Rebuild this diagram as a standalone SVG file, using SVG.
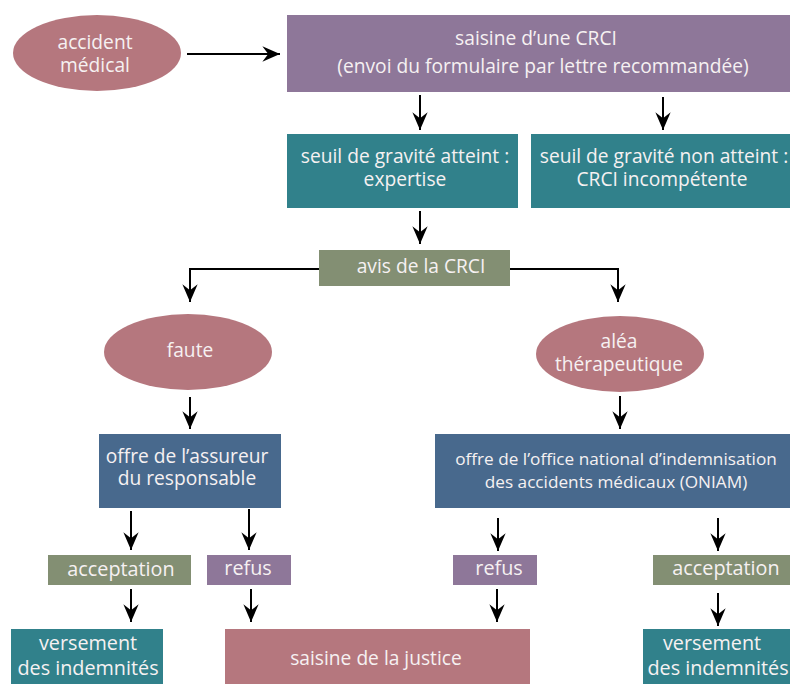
<svg xmlns="http://www.w3.org/2000/svg" width="790" height="684" viewBox="0 0 790 684">
<style>
text{font-family:"Open Sans","Liberation Sans",sans-serif;font-size:19.2px;fill:#f6f1f2;text-anchor:middle}
.sm{font-size:17.2px}
.lg{font-size:19.8px}
.rose{fill:#b5777e}
.purple{fill:#8e7799}
.teal{fill:#31818b}
.green{fill:#838f73}
.blue{fill:#48698d}
.c{fill:none;stroke:#000;stroke-width:2}
</style>
<defs>
<marker id="ah" markerUnits="userSpaceOnUse" markerWidth="20" markerHeight="20" viewBox="-16 -8 17 16" refX="0" refY="0" orient="auto">
<path d="M0,0 L-15,-6.5 L-10,0 L-15,6.5 Z" fill="#000"/>
</marker>
</defs>
<rect width="790" height="684" fill="#fff"/>
<g id="connectors">
<path class="c" d="M187,54 H280" marker-end="url(#ah)"/>
<path class="c" d="M420,95 V130" marker-end="url(#ah)"/>
<path class="c" d="M663,97 V130" marker-end="url(#ah)"/>
<path class="c" d="M420,211 V244" marker-end="url(#ah)"/>
<path class="c" d="M319,269 H190 V302" marker-end="url(#ah)"/>
<path class="c" d="M510,269 H618 V302" marker-end="url(#ah)"/>
<path class="c" d="M190,397 V429" marker-end="url(#ah)"/>
<path class="c" d="M620,396 V429" marker-end="url(#ah)"/>
<path class="c" d="M131,511 V550" marker-end="url(#ah)"/>
<path class="c" d="M249,509 V550" marker-end="url(#ah)"/>
<path class="c" d="M498,518 V551" marker-end="url(#ah)"/>
<path class="c" d="M718,518 V551" marker-end="url(#ah)"/>
<path class="c" d="M131,589 V622" marker-end="url(#ah)"/>
<path class="c" d="M251,589 V622" marker-end="url(#ah)"/>
<path class="c" d="M497,589 V622" marker-end="url(#ah)"/>
<path class="c" d="M718,593 V626" marker-end="url(#ah)"/>
</g>
<g id="accident">
<ellipse class="rose" cx="97" cy="53" rx="84" ry="38"/>
<text x="95" y="49">accident</text>
<text x="95" y="72">médical</text>
</g>
<g id="saisine-crci">
<rect class="purple" x="287" y="15" width="503" height="77"/>
<text x="536" y="45">saisine d’une CRCI</text>
<text x="543" y="73">(envoi du formulaire par lettre recommandée)</text>
</g>
<g id="seuil-atteint">
<rect class="teal" x="287" y="134" width="231" height="74"/>
<text x="405" y="163">seuil de gravité atteint :</text>
<text x="405" y="186">expertise</text>
</g>
<g id="seuil-non-atteint">
<rect class="teal" x="531" y="134" width="259" height="74"/>
<text x="664" y="163">seuil de gravité non atteint :</text>
<text x="662" y="186">CRCI incompétente</text>
</g>
<g id="avis">
<rect class="green" x="319" y="250" width="191" height="36"/>
<text x="421" y="273">avis de la CRCI</text>
</g>
<g id="faute">
<ellipse class="rose" cx="188" cy="352" rx="84" ry="38"/>
<text x="190" y="357">faute</text>
</g>
<g id="alea">
<ellipse class="rose" cx="620" cy="354" rx="84" ry="38"/>
<text x="619" y="348">aléa</text>
<text x="619" y="371">thérapeutique</text>
</g>
<g id="offre-assureur">
<rect class="blue" x="99" y="434" width="182" height="74"/>
<text x="187" y="463">offre de l’assureur</text>
<text x="187" y="485">du responsable</text>
</g>
<g id="offre-oniam">
<rect class="blue" x="435" y="434" width="355" height="74"/>
<text x="616" y="465" class="sm">offre de l’office national d’indemnisation</text>
<text x="616" y="488" class="sm">des accidents médicaux (ONIAM)</text>
</g>
<g id="acceptation-1">
<rect class="green" x="48" y="555" width="143" height="30"/>
<text x="121" y="576" class="lg">acceptation</text>
</g>
<g id="refus-1">
<rect class="purple" x="207" y="555" width="84" height="30"/>
<text x="248" y="575" class="lg">refus</text>
</g>
<g id="refus-2">
<rect class="purple" x="453" y="555" width="84" height="30"/>
<text x="499" y="575" class="lg">refus</text>
</g>
<g id="acceptation-2">
<rect class="green" x="653" y="555" width="137" height="30"/>
<text x="726" y="575" class="lg">acceptation</text>
</g>
<g id="versement-1">
<rect class="teal" x="11" y="629" width="152" height="55"/>
<text x="88" y="650" class="lg">versement</text>
<text x="88" y="675" class="lg">des indemnités</text>
</g>
<g id="saisine-justice">
<rect class="rose" x="225" y="629" width="305" height="55"/>
<text x="376" y="665">saisine de la justice</text>
</g>
<g id="versement-2">
<rect class="teal" x="643" y="629" width="147" height="55"/>
<text x="712" y="650" class="lg">versement</text>
<text x="718" y="675" class="lg">des indemnités</text>
</g>
</svg>
